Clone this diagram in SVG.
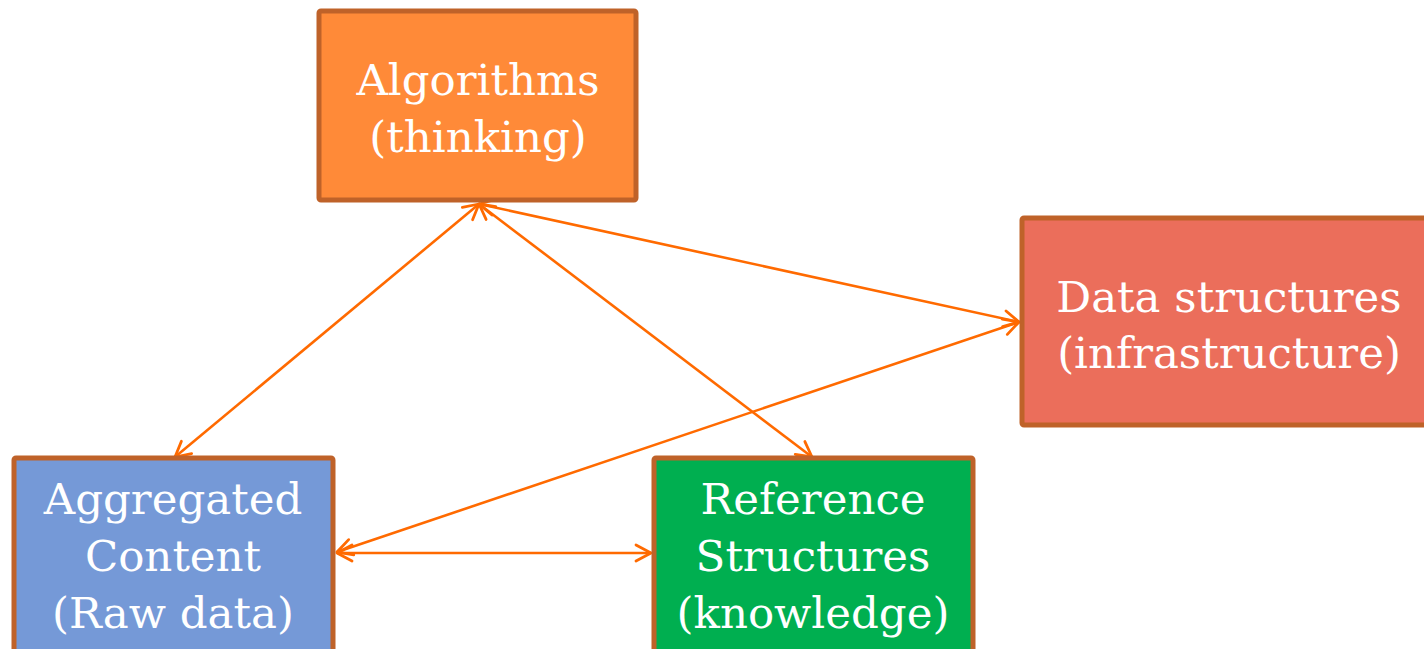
<svg xmlns="http://www.w3.org/2000/svg" width="1424" height="649" viewBox="0 0 1424 649">
  <style>
    .box { stroke: #BF6229; stroke-width: 5; }
    .lbl { font-family: "DejaVu Serif", "Liberation Serif", serif; font-size: 43.5px; fill: #FFFFFF; text-anchor: middle; }
    .conn { stroke: #FF6A00; stroke-width: 2.6; fill: none; marker-start: url(#arr); marker-end: url(#arr); }
  </style>
  <defs>
    <marker id="arr" viewBox="-18 -10 20 20" markerWidth="20" markerHeight="20" refX="0" refY="0" orient="auto-start-reverse" markerUnits="userSpaceOnUse">
      <path d="M -15 -8 L 0 0 L -15 8" fill="none" stroke="#FF6A00" stroke-width="2.8" stroke-linecap="round" stroke-linejoin="round"/>
    </marker>
  </defs>
  <rect width="1424" height="649" fill="#FFFFFF"/>

  <g id="connectors">
    <line class="conn" x1="479" y1="204" x2="175" y2="457"/>
    <line class="conn" x1="479" y1="204" x2="812" y2="457"/>
    <line class="conn" x1="479" y1="204" x2="1019" y2="322"/>
    <line class="conn" x1="337" y1="552" x2="1019" y2="322"/>
    <line class="conn" x1="337" y1="553" x2="651" y2="553"/>
  </g>

  <g id="algorithms">
    <rect class="box" x="319" y="11" width="317" height="189" rx="2" fill="#FF8A38"/>
    <text class="lbl" x="478" y="95">Algorithms</text>
    <text class="lbl" x="478" y="152">(thinking)</text>
  </g>

  <g id="data-structures">
    <rect class="box" x="1022" y="218" width="420" height="207" rx="2" fill="#EB6E5B"/>
    <text class="lbl" x="1229" y="312">Data structures</text>
    <text class="lbl" x="1229" y="368">(infrastructure)</text>
  </g>

  <g id="aggregated-content">
    <rect class="box" x="14" y="458" width="319" height="205" rx="2" fill="#7599D7"/>
    <text class="lbl" x="173" y="514">Aggregated</text>
    <text class="lbl" x="173" y="571">Content</text>
    <text class="lbl" x="173" y="628">(Raw data)</text>
  </g>

  <g id="reference-structures">
    <rect class="box" x="654" y="458" width="319" height="205" rx="2" fill="#00AF50"/>
    <text class="lbl" x="813" y="514">Reference</text>
    <text class="lbl" x="813" y="571">Structures</text>
    <text class="lbl" x="813" y="628">(knowledge)</text>
  </g>
</svg>
